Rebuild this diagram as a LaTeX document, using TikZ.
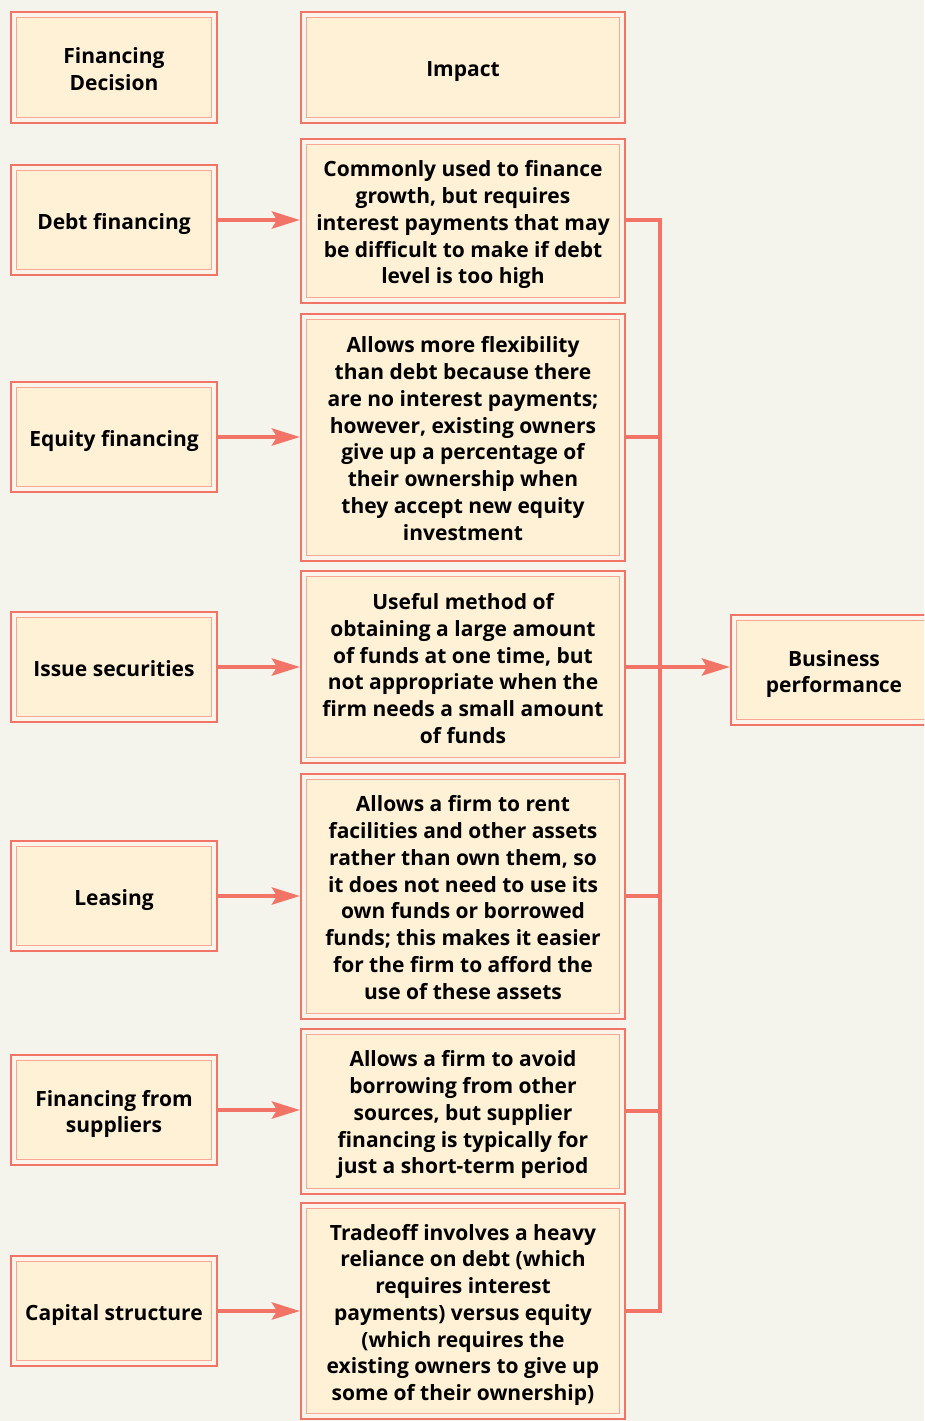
\documentclass[tikz,border=0pt]{standalone}
\usepackage{fontspec}
\setmainfont{Open Sans}
\usepackage{tikz}
\usetikzlibrary{arrows.meta, calc}
\setlength{\parindent}{0pt}
\definecolor{pagebg}{RGB}{244, 244, 236}
\definecolor{frameline}{RGB}{242, 116, 102}
\definecolor{innerline}{RGB}{249, 166, 148}
\definecolor{gapfill}{RGB}{250, 244, 234}
\definecolor{cream}{RGB}{255, 241, 214}
\newcommand{\topstrut}{\rule[-6pt]{0pt}{30.75pt}}
\newcommand{\boxstrut}{\rule[-6pt]{0pt}{26.75pt}}
\tikzstyle{finbox} = [
    rectangle,
    draw=frameline,
    line width=2pt,
    fill=gapfill,
    inner sep=0pt,
    align=flush center,
    font=\fontsize{21}{26.75}\selectfont\bfseries,
    execute at begin node={\noindent\topstrut},
    execute at end node={\boxstrut},
    path picture={\draw[innerline, line width=1pt, fill=cream]
        ([shift={(5.5pt,-5.5pt)}]path picture bounding box.north west) rectangle
        ([shift={(-5.5pt,5.5pt)}]path picture bounding box.south east);}
]
\tikzstyle{decision} = [finbox, text width=200pt, minimum width=206pt, minimum height=110pt]
\tikzstyle{impact} = [finbox, text width=312pt, minimum width=324pt]
\tikzstyle{arrow} = [
    line width=4.5pt,
    draw=frameline,
    -{Stealth[length=28pt, width=17pt, inset=5pt]}
]
\tikzstyle{bus} = [line width=4.5pt, draw=frameline]

\begin{document}
\begin{tikzpicture}[x=1pt, y=-1pt]
        \fill[pagebg] (0,0) rectangle (924,1421);
        \useasboundingbox (0,0) rectangle (924,1421);
        \clip (0,0) rectangle (924,1421);

        % Header row
        \node[decision, minimum height=111pt] (head) at (114, 67.5) {Financing\\Decision};
        \node[impact, minimum height=111pt] (head-imp) at (463, 67.5) {Impact};

        % Financing decisions
        \node[decision] (debt) at (114, 220) {Debt financing};
        \node[decision] (equity) at (114, 437) {Equity financing};
        \node[decision] (issue) at (114, 667) {Issue securities};
        \node[decision] (leasing) at (114, 896) {Leasing};
        \node[decision] (suppliers) at (114, 1110) {Financing from\\suppliers};
        \node[decision] (capital) at (114, 1311) {Capital structure};

        % Impacts
        \node[impact, minimum height=164pt] (debt-imp) at (463, 221) {Commonly used to finance\\growth, but requires\\interest payments that may\\be difficult to make if debt\\level is too high};
        \node[impact, minimum height=247pt] (equity-imp) at (463, 437) {Allows more flexibility\\than debt because there\\are no interest payments;\\however, existing owners\\give up a percentage of\\their ownership when\\they accept new equity\\investment};
        \node[impact, minimum height=192pt] (issue-imp) at (463, 667) {Useful method of\\obtaining a large amount\\of funds at one time, but\\not appropriate when the\\firm needs a small amount\\of funds};
        \node[impact, minimum height=245pt] (leasing-imp) at (463, 896) {Allows a firm to rent\\facilities and other assets\\rather than own them, so\\it does not need to use its\\own funds or borrowed\\funds; this makes it easier\\for the firm to afford the\\use of these assets};
        \node[impact, minimum height=165pt] (suppliers-imp) at (463, 1111) {Allows a firm to avoid\\borrowing from other\\sources, but supplier\\financing is typically for\\just a short-term period};
        \node[impact, minimum height=216pt] (capital-imp) at (463, 1311) {Tradeoff involves a heavy\\reliance on debt (which\\requires interest\\payments) versus equity\\(which requires the\\existing owners to give up\\some of their ownership)};

        % Outcome
        \node[decision] (perf) at (834, 670) {Business\\performance};

        % Arrows
        \foreach \src in {debt, equity, issue, leasing, suppliers, capital}
            \draw[arrow] (\src.east) -- (\src.east -| \src-imp.west);

        % Collecting line
        \coordinate (bustop) at ([xshift=34pt]debt-imp.east |- debt.east);
        \draw[bus] (debt-imp.east |- debt.east) -- (bustop) -- (bustop |- capital-imp.east) -- (capital-imp.east);
        \foreach \src in {equity, leasing, suppliers}
            \draw[bus] (\src-imp.east) -- (\src-imp.east -| bustop);
        \draw[arrow] (issue-imp.east) -- (issue-imp.east -| perf.west);
    \end{tikzpicture}
\end{document}
